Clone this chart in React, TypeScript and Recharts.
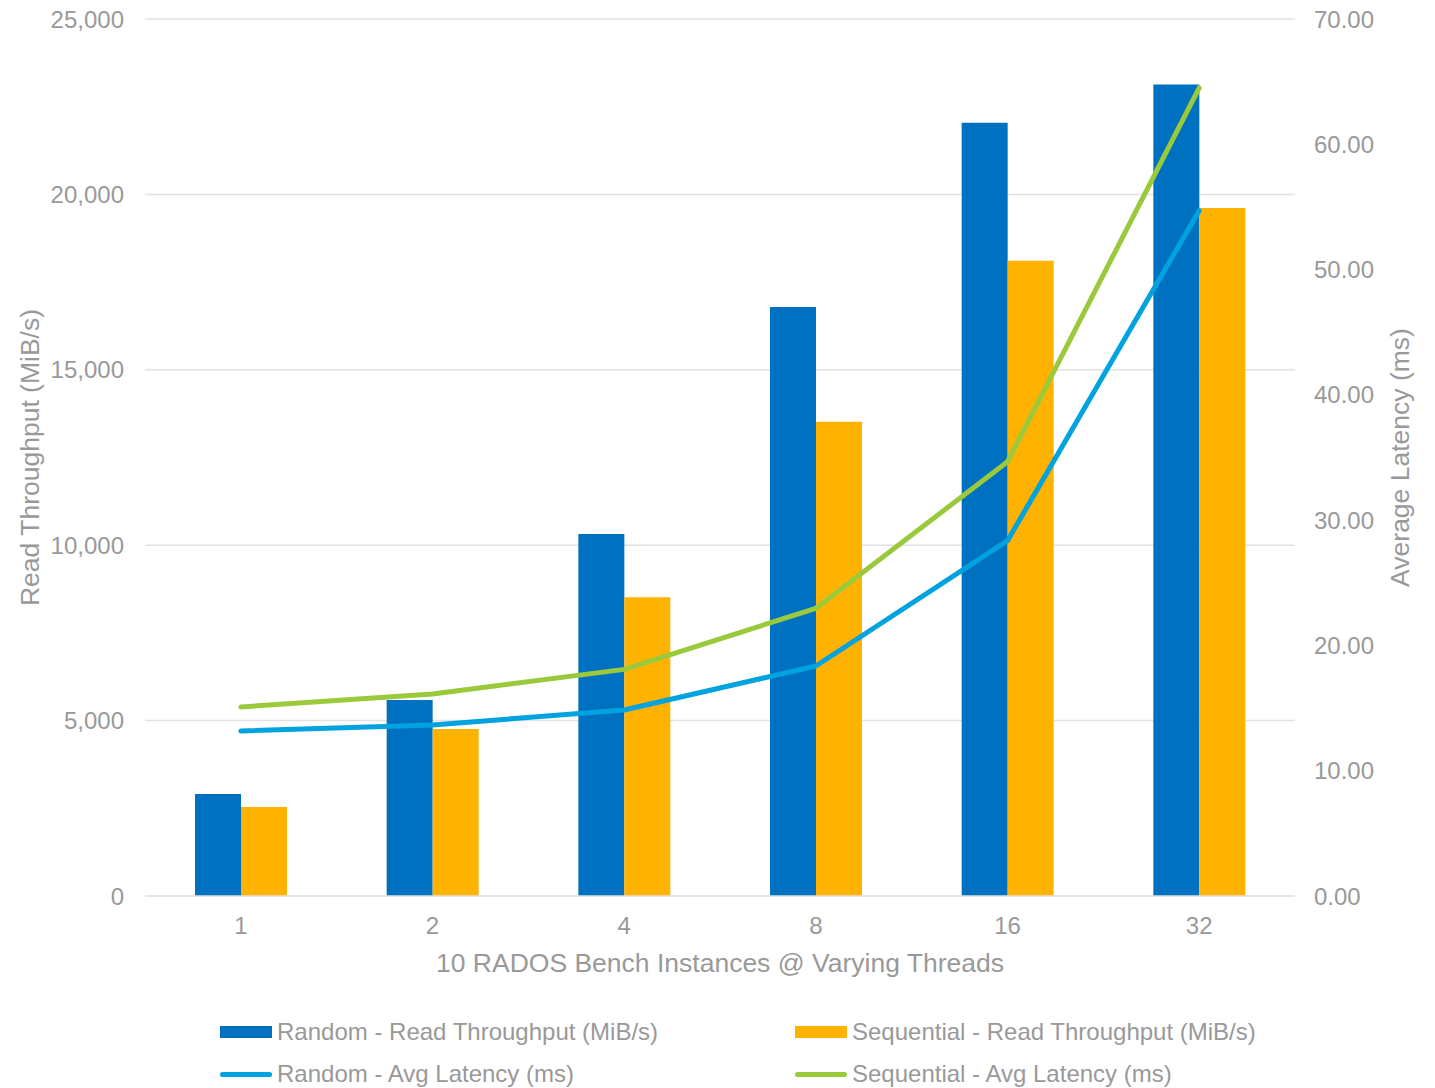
import React from 'react';
import {
  ComposedChart,
  Bar,
  Line,
  XAxis,
  YAxis,
  CartesianGrid,
  Legend,
} from 'recharts';

// Thread counts per RADOS bench instance
const threads = ['1', '2', '4', '8', '16', '32'];

// Read throughput (MiB/s)
const randomThroughput = [2910, 5590, 10320, 16790, 22045, 23130];
const sequentialThroughput = [2540, 4760, 8515, 13520, 18110, 19612];

// Average latency (ms)
const randomLatency = [13.17, 13.65, 14.85, 18.36, 28.36, 54.7];
const sequentialLatency = [15.09, 16.12, 18.09, 22.96, 34.66, 64.5];

const throughputTicks = [0, 5000, 10000, 15000, 20000, 25000];
const latencyTicks = [0, 10, 20, 30, 40, 50, 60, 70];

const data = threads.map((t, i) => ({
  threads: t,
  randomThroughput: randomThroughput[i],
  sequentialThroughput: sequentialThroughput[i],
  randomLatency: randomLatency[i],
  sequentialLatency: sequentialLatency[i],
}));

const FONT = '"Liberation Sans", Arial, Helvetica, sans-serif';
const TEXT = '#999999';
const GRID = '#e2e2e2';

const COLORS = {
  randomBar: '#0070C0',
  sequentialBar: '#FFB300',
  randomLine: '#00A2E0',
  sequentialLine: '#9BC93C',
};

const legendItems = [
  { label: 'Random - Read Throughput (MiB/s)', color: COLORS.randomBar, kind: 'bar' },
  { label: 'Sequential - Read Throughput (MiB/s)', color: COLORS.sequentialBar, kind: 'bar' },
  { label: 'Random - Avg Latency (ms)', color: COLORS.randomLine, kind: 'line' },
  { label: 'Sequential - Avg Latency (ms)', color: COLORS.sequentialLine, kind: 'line' },
];

const LegendContent = () => {
  const columns = [220, 795];
  const rows = [22, 64];
  return (
    <div style={{ position: 'relative', width: 1435, height: 88, fontFamily: FONT }}>
      {legendItems.map((item, i) => (
        <div
          key={item.label}
          style={{
            position: 'absolute',
            left: columns[i % 2],
            top: rows[Math.floor(i / 2)] - 15,
            height: 30,
            display: 'flex',
            alignItems: 'center',
            whiteSpace: 'nowrap',
          }}
        >
          <span
            style={{
              display: 'inline-block',
              width: 52,
              height: item.kind === 'bar' ? 12 : 5,
              borderRadius: item.kind === 'bar' ? 0 : 3,
              background: item.color,
              marginRight: 5,
            }}
          />
          <span style={{ fontSize: 24, color: TEXT }}>{item.label}</span>
        </div>
      ))}
    </div>
  );
};

const tickStyle = { fontSize: 24, fill: TEXT, fontFamily: FONT };
const titleStyle = { fontSize: 26.5, fill: TEXT, fontFamily: FONT, textAnchor: 'middle' as const };

export default function App() {
  return (
    <div style={{ position: 'absolute', left: 0, top: 0, background: '#ffffff' }}>
      <ComposedChart
        width={1435}
        height={1088}
        data={data}
        margin={{ top: 19, right: 0, bottom: 152, left: 0 }}
        barGap={0}
        style={{ fontFamily: FONT }}
      >
        <CartesianGrid
          yAxisId="left"
          vertical={false}
          stroke={GRID}
          strokeWidth={1.5}
        />
        <XAxis
          dataKey="threads"
          height={40}
          tickLine={false}
          tickSize={0}
          tickMargin={21}
          axisLine={{ stroke: GRID, strokeWidth: 1.5 }}
          tick={tickStyle}
          label={{
            value: '10 RADOS Bench Instances @ Varying Threads',
            position: 'bottom',
            offset: 17,
            style: titleStyle,
          }}
        />
        <YAxis
          yAxisId="left"
          width={145}
          domain={[0, 25000]}
          ticks={throughputTicks}
          tickFormatter={(v: number) => v.toLocaleString('en-US')}
          axisLine={false}
          tickLine={false}
          tickSize={0}
          tickMargin={21}
          tick={tickStyle}
          label={{
            value: 'Read Throughput (MiB/s)',
            angle: -90,
            position: 'insideLeft',
            offset: 30,
            style: titleStyle,
          }}
        />
        <YAxis
          yAxisId="right"
          orientation="right"
          width={140}
          domain={[0, 70]}
          ticks={latencyTicks}
          tickFormatter={(v: number) => v.toFixed(2)}
          axisLine={false}
          tickLine={false}
          tickSize={0}
          tickMargin={19}
          tick={{ ...tickStyle, textAnchor: 'start' }}
          label={{
            value: 'Average Latency (ms)',
            angle: -90,
            position: 'insideRight',
            offset: 35,
            style: titleStyle,
          }}
        />
        <Legend
          layout="horizontal"
          verticalAlign="middle"
          align="center"
          wrapperStyle={{ left: 0, top: 1010, width: 1435, height: 88 }}
          content={<LegendContent />}
        />
        <Bar
          yAxisId="left"
          dataKey="randomThroughput"
          name="Random - Read Throughput (MiB/s)"
          fill={COLORS.randomBar}
          barSize={46}
          isAnimationActive={false}
        />
        <Bar
          yAxisId="left"
          dataKey="sequentialThroughput"
          name="Sequential - Read Throughput (MiB/s)"
          fill={COLORS.sequentialBar}
          barSize={46}
          isAnimationActive={false}
        />
        <Line
          yAxisId="right"
          type="linear"
          dataKey="randomLatency"
          name="Random - Avg Latency (ms)"
          stroke={COLORS.randomLine}
          strokeWidth={5}
          strokeLinecap="round"
          strokeLinejoin="round"
          dot={false}
          activeDot={false}
          isAnimationActive={false}
        />
        <Line
          yAxisId="right"
          type="linear"
          dataKey="sequentialLatency"
          name="Sequential - Avg Latency (ms)"
          stroke={COLORS.sequentialLine}
          strokeWidth={5}
          strokeLinecap="round"
          strokeLinejoin="round"
          dot={false}
          activeDot={false}
          isAnimationActive={false}
        />
      </ComposedChart>
    </div>
  );
}
